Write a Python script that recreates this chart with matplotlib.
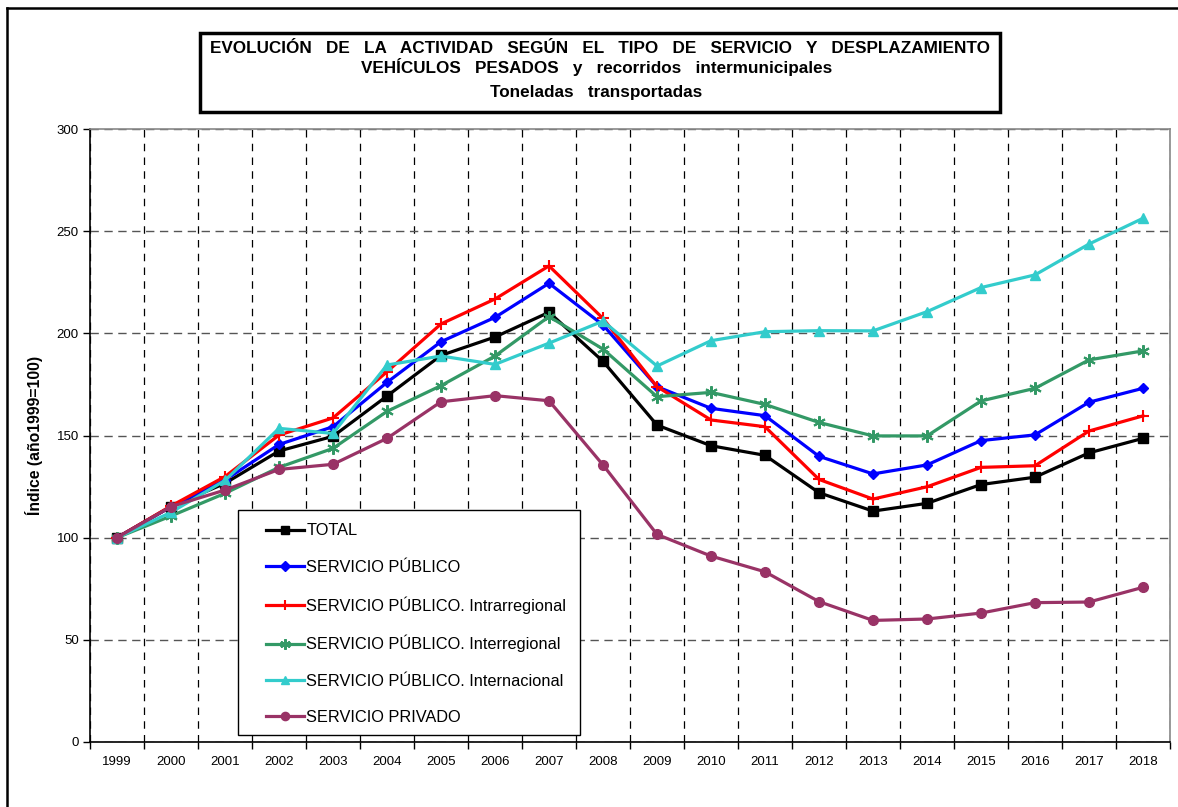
import matplotlib
matplotlib.use("Agg")
import matplotlib.pyplot as plt
from matplotlib.patches import Rectangle
from matplotlib.lines import Line2D

plt.rcParams['font.family'] = ['Liberation Sans', 'DejaVu Sans']

years = [str(y) for y in range(1999, 2019)]

total = [100, 115.2, 126.6, 142.4, 149.6, 169.3, 189.2, 198.2, 210.3, 186.3,
         155.1, 145.0, 140.3, 122.0, 113.0, 116.8, 126.0, 129.6, 141.5, 148.6]
publico = [100, 115.2, 128.2, 145.6, 154.3, 176.0, 195.9, 207.8, 224.5, 204.1,
           173.9, 163.3, 159.7, 139.8, 131.2, 135.6, 147.5, 150.3, 166.3, 173.1]
intrarregional = [100, 115.5, 129.9, 150.2, 158.6, 181.2, 204.6, 216.8, 233.0, 207.3,
                  173.9, 157.6, 154.3, 128.5, 118.9, 124.9, 134.4, 135.2, 152.2, 159.6]
interregional = [100, 110.6, 121.7, 134.4, 143.7, 161.8, 174.4, 188.9, 208.2, 192.3,
                 169.0, 171.1, 165.2, 156.4, 149.8, 149.8, 166.9, 173.1, 187.0, 191.4]
internacional = [100, 112.4, 128.0, 153.5, 151.0, 184.5, 188.9, 184.8, 195.2, 206.0,
                 184.0, 196.4, 200.8, 201.3, 201.2, 210.6, 222.4, 228.6, 243.7, 256.3]
privado = [100, 115.2, 123.3, 133.4, 135.9, 148.6, 166.5, 169.5, 167.0, 135.6,
           101.6, 91.0, 83.3, 68.7, 59.5, 60.2, 63.1, 68.2, 68.5, 75.7]

series_labels = ['TOTAL', 'SERVICIO PÚBLICO', 'SERVICIO PÚBLICO. Intrarregional',
                 'SERVICIO PÚBLICO. Interregional', 'SERVICIO PÚBLICO. Internacional',
                 'SERVICIO PRIVADO']
series_values = [total, publico, intrarregional, interregional, internacional, privado]
colors = ['#000000', '#0000FF', '#FF0000', '#339966', '#33CCCC', '#993366']
markers = ['s', 'D', '+', (6, 2, 0), '^', 'o']
msizes = [7, 5.5, 9, 9, 7, 7]

fig = plt.figure(figsize=(11.78, 8.07), dpi=100)
W, H = 1178, 807
ax = fig.add_axes([90 / W, 1 - 742 / H, (1170 - 90) / W, (742 - 129) / H])

x = list(range(len(years)))
for vals, lab, c, m, ms in zip(series_values, series_labels, colors, markers, msizes):
    ax.plot(x, vals, color=c, lw=2.3, marker=m, markersize=ms,
            markeredgewidth=1.5 if (m == '+' or isinstance(m, tuple)) else 1,
            markerfacecolor=c, markeredgecolor=c, label=lab, zorder=3)

ax.set_xlim(-0.5, len(years) - 0.5)
ax.set_ylim(0, 300)
ax.set_yticks(range(0, 301, 50))
ax.set_xticks(x)
ax.set_xticklabels(years, fontsize=9.5)
ax.set_xticks([i - 0.5 for i in range(len(years) + 1)], minor=True)
ax.tick_params(axis='x', which='major', length=0, pad=10)
ax.tick_params(axis='x', which='minor', length=5, direction='out', width=1)
ax.tick_params(axis='y', which='major', length=5, direction='out', width=1, labelsize=9.5, pad=3)

ax.grid(axis='y', which='major', color='#555555', linestyle=(0, (6, 4)), lw=1, zorder=1)
ax.grid(axis='x', which='minor', color='#000000', linestyle=(0, (6, 5)), lw=0.9, zorder=1)

for s in ['top', 'right']:
    ax.spines[s].set_color('#888888')
    ax.spines[s].set_linewidth(1.2)
for s in ['left', 'bottom']:
    ax.spines[s].set_color('#000000')
    ax.spines[s].set_linewidth(1.2)

ax.set_ylabel('Índice (año1999=100)', fontsize=11.3, fontweight='bold', labelpad=10)

# legend frame drawn separately (asymmetric padding like the reference)
ax.add_patch(Rectangle(((238 - 90) / 1080, (742 - 735) / 613), (580 - 238) / 1080, (735 - 510) / 613,
                       transform=ax.transAxes, facecolor='white', edgecolor='black', lw=1.0, zorder=4))
leg = ax.legend(loc='lower left', bbox_to_anchor=((266 - 90) / 1080, (742 - 725) / 613),
                fontsize=11.8, frameon=False,
                labelspacing=1.3, handlelength=2.3, handletextpad=0.15, borderpad=0,
                borderaxespad=0, markerscale=0.85)
leg.set_zorder(5)

# title box
fig.patches.append(Rectangle((200 / W, 1 - 112 / H), 800 / W, 79 / H, transform=fig.transFigure,
                             facecolor='white', edgecolor='black', lw=2.5))
tkw = dict(ha='center', va='baseline', fontsize=12.3, fontweight='bold', transform=fig.transFigure)
fig.text(600 / W, 1 - 53 / H, 'EVOLUCIÓN   DE   LA   ACTIVIDAD   SEGÚN   EL   TIPO   DE   SERVICIO   Y   DESPLAZAMIENTO', **tkw)
fig.text(597 / W, 1 - 73.5 / H, 'VEHÍCULOS   PESADOS   y   recorridos   intermunicipales', **tkw)
fig.text(596 / W, 1 - 96.5 / H, 'Toneladas   transportadas', **tkw)

# outer frame (left and top edges visible)
fig.lines.append(Line2D([7 / W, 7 / W], [0, 1 - 8 / H], transform=fig.transFigure, color='black', lw=1.8))
fig.lines.append(Line2D([7 / W, 1], [1 - 8 / H, 1 - 8 / H], transform=fig.transFigure, color='black', lw=1.8))

fig.savefig('out.png', dpi=100)
